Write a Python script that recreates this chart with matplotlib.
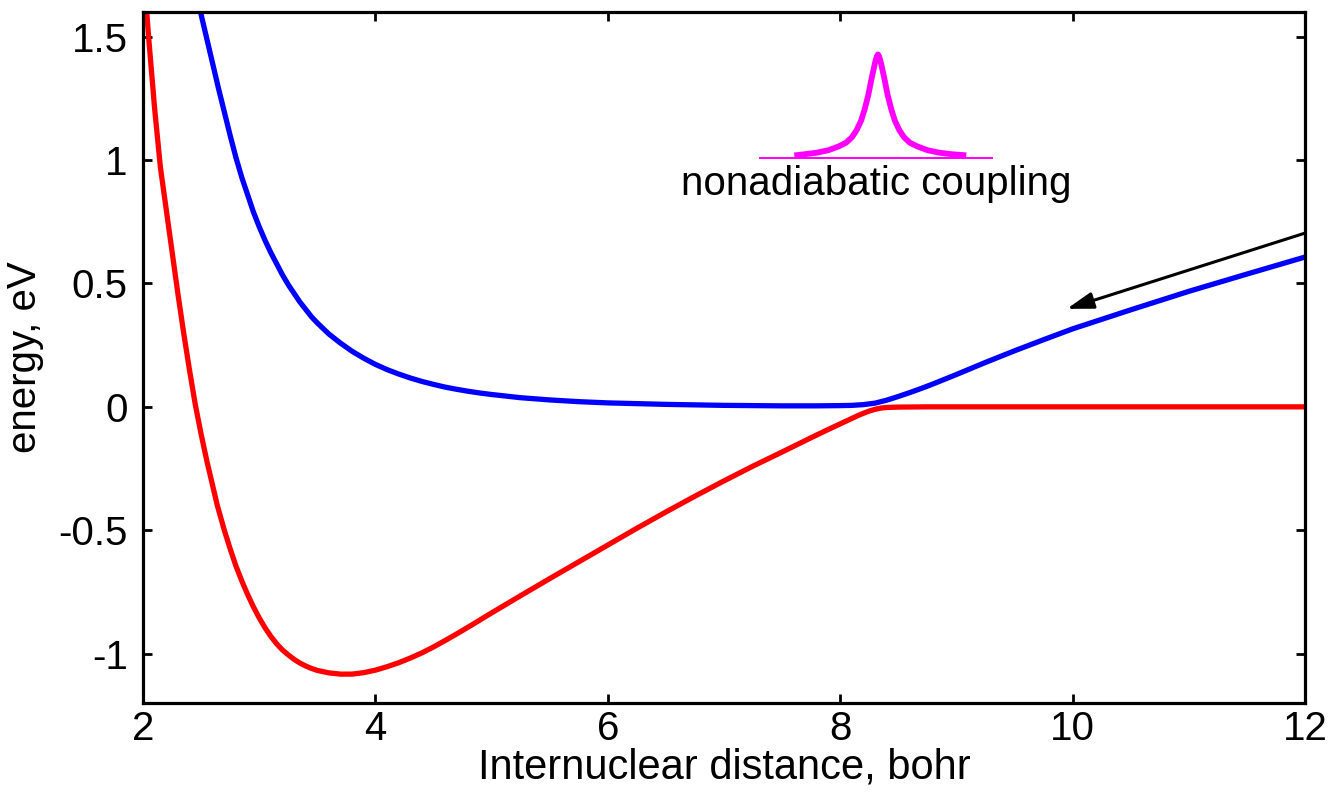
import matplotlib
matplotlib.use('Agg')
import matplotlib.pyplot as plt

plt.rcParams['font.family'] = ['Liberation Sans', 'DejaVu Sans']
plt.rcParams['axes.unicode_minus'] = False

# ── data ────────────────────────────────────────────────────────────────────
# lower adiabatic curve (red)
r_lower = [2.00, 2.05, 2.10, 2.15, 2.20, 2.25, 2.30, 2.35, 2.40, 2.45,
           2.50, 2.55, 2.60, 2.64, 2.70, 2.75, 2.80, 2.85, 2.90, 2.95,
           3.00, 3.05, 3.10, 3.15, 3.20, 3.25, 3.30, 3.35, 3.40, 3.45,
           3.50, 3.60, 3.70, 3.80, 3.90, 4.00, 4.10, 4.20, 4.30, 4.40,
           4.50, 4.60, 4.70, 4.85, 5.00, 5.25, 5.50, 5.75, 6.00, 6.25,
           6.50, 6.75, 7.00, 7.25, 7.50, 7.75, 7.90, 8.00, 8.05, 8.10,
           8.15, 8.20, 8.25, 8.30, 8.35, 8.40, 8.50, 8.75, 9.00, 10.0,
           11.0, 12.0]
e_lower = [1.80, 1.49, 1.21, 0.97, 0.80, 0.63, 0.46, 0.30, 0.15, 0.01,
           -0.11, -0.22, -0.32, -0.40, -0.50, -0.575, -0.645, -0.705, -0.76, -0.81,
           -0.855, -0.895, -0.93, -0.96, -0.985, -1.005, -1.023, -1.038, -1.05, -1.06,
           -1.068, -1.078, -1.083, -1.083, -1.077, -1.067, -1.053, -1.037, -1.018, -0.997,
           -0.973, -0.947, -0.920, -0.878, -0.835, -0.765, -0.696, -0.628, -0.56, -0.492,
           -0.426, -0.362, -0.30, -0.240, -0.183, -0.125, -0.091, -0.069, -0.058, -0.047,
           -0.036, -0.026, -0.017, -0.010, -0.005, -0.0025, -0.001, 0.0, 0.0, 0.0,
           0.0, 0.0]

# upper adiabatic curve (blue)
r_upper = [2.40, 2.45, 2.50, 2.55, 2.60, 2.65, 2.70, 2.75, 2.80, 2.85,
           2.90, 2.95, 3.00, 3.05, 3.10, 3.15, 3.20, 3.25, 3.30, 3.35,
           3.40, 3.45, 3.50, 3.60, 3.70, 3.80, 3.90, 4.00, 4.10, 4.20,
           4.30, 4.40, 4.50, 4.60, 4.70, 4.80, 4.90, 5.00, 5.25, 5.50,
           5.75, 6.00, 6.50, 7.00, 7.50, 7.80, 8.00, 8.10, 8.20, 8.30,
           8.40, 8.50, 8.60, 8.70, 8.80, 8.90, 9.00, 9.25, 9.50, 9.75,
           10.0, 10.5, 11.0, 11.5, 12.0]
e_upper = [1.80, 1.69, 1.59, 1.49, 1.39, 1.29, 1.195, 1.10, 1.01, 0.93,
           0.86, 0.79, 0.73, 0.675, 0.625, 0.58, 0.535, 0.495, 0.46, 0.425,
           0.395, 0.365, 0.34, 0.295, 0.258, 0.225, 0.197, 0.172, 0.151, 0.133,
           0.117, 0.103, 0.091, 0.080, 0.071, 0.063, 0.056, 0.050, 0.037, 0.028,
           0.021, 0.016, 0.010, 0.006, 0.004, 0.004, 0.005, 0.006, 0.009, 0.015,
           0.027, 0.042, 0.058, 0.075, 0.093, 0.112, 0.131, 0.180, 0.227, 0.272,
           0.316, 0.393, 0.468, 0.538, 0.607]

# nonadiabatic coupling sketch (magenta), drawn in data units
nac_r = [7.63, 7.70, 7.80, 7.90, 7.99, 8.05, 8.10, 8.14, 8.18, 8.21,
         8.24, 8.27, 8.30, 8.315, 8.325, 8.335, 8.35, 8.38, 8.41, 8.44,
         8.47, 8.51, 8.55, 8.60, 8.66, 8.75, 8.85, 8.95, 9.06]
nac_e = [1.020, 1.024, 1.030, 1.040, 1.056, 1.070, 1.092, 1.120, 1.160, 1.205,
         1.260, 1.330, 1.395, 1.420, 1.428, 1.420, 1.395, 1.330, 1.260, 1.205,
         1.160, 1.120, 1.092, 1.070, 1.056, 1.040, 1.030, 1.024, 1.020]
nac_base_r = [7.31, 9.31]
nac_base_e = [1.007, 1.007]

# arrow along the upper curve (start, tip)
arrow_start = (12.0, 0.704)
arrow_tip = (9.95, 0.397)

xticks = [2, 4, 6, 8, 10, 12]
yticks = [-1, -0.5, 0, 0.5, 1, 1.5]
ytick_labels = ['-1', '-0.5', '0', '0.5', '1', '1.5']

# ── figure ──────────────────────────────────────────────────────────────────
fig = plt.figure(figsize=(13.4, 7.93), dpi=100)
ax = fig.add_axes([0.1067, 0.1135, 0.8672, 0.8714])

ax.plot(r_lower, e_lower, color='#ff0000', lw=3.8, solid_joinstyle='round')
ax.plot(r_upper, e_upper, color='#0000ff', lw=3.8, solid_joinstyle='round')

ax.plot(nac_base_r, nac_base_e, color='#ff00ff', lw=1.4)
ax.plot(nac_r, nac_e, color='#ff00ff', lw=4.2, solid_joinstyle='round')
ax.text(8.31, 0.86, 'nonadiabatic coupling', ha='center', va='baseline',
        fontsize=29)

ax.annotate('', xy=arrow_tip, xytext=arrow_start,
            arrowprops=dict(arrowstyle='-|>,head_length=0.8,head_width=0.25',
                            color='black', lw=2.2, mutation_scale=20,
                            shrinkA=0, shrinkB=0))

ax.set_xlim(2, 12)
ax.set_ylim(-1.2, 1.6)
ax.set_xticks(xticks)
ax.set_xticklabels([str(t) for t in xticks])
ax.set_yticks(yticks)
ax.set_yticklabels(ytick_labels)

for s in ax.spines.values():
    s.set_linewidth(2.3)
ax.tick_params(direction='in', length=6.5, width=2, labelsize=29,
               top=True, right=True)
ax.tick_params(axis='y', pad=11)
ax.tick_params(axis='x', pad=5)

ax.set_xlabel('Internuclear distance, bohr', fontsize=30, labelpad=0)
ax.set_ylabel('energy, eV', fontsize=29, labelpad=10)

fig.savefig('out.png', dpi=100)
